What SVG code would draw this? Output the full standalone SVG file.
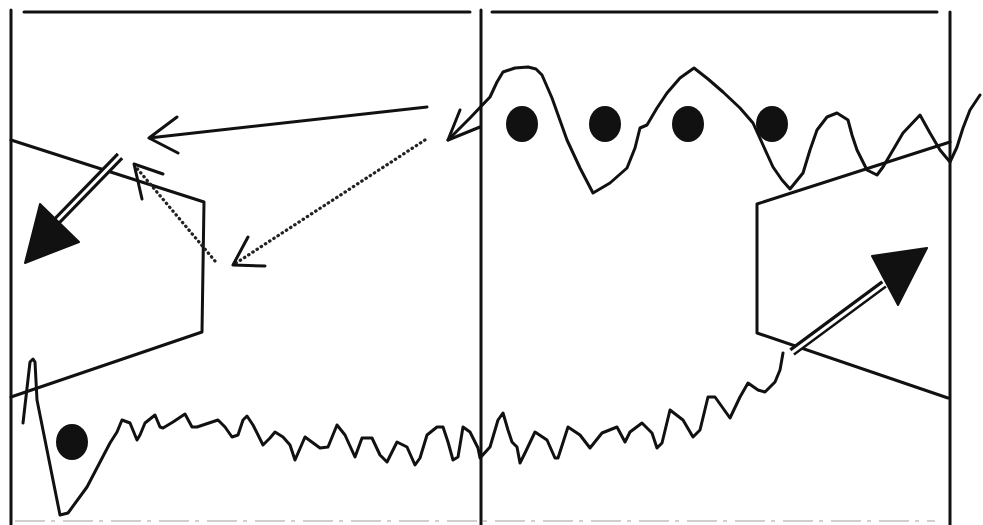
<svg xmlns="http://www.w3.org/2000/svg" width="983" height="525" viewBox="0 0 983 525">
<style>
.ln{fill:none;stroke:#111;stroke-width:3;stroke-linejoin:round;stroke-linecap:round}
.dot{fill:#111}
.dt{fill:none;stroke:#222;stroke-width:3.2;stroke-dasharray:0.5 4.5;stroke-linecap:round}
.hd{fill:#111;stroke:#111;stroke-width:2;stroke-linejoin:round}
</style>
<rect width="983" height="525" fill="#fff"/>
<g id="frame">
<path class="ln" d="M11,10 V525 M24,12 H470 M481,10 V525 M492,12 H937 M950,12 V525"/>
<path d="M15,521 H935" stroke="#cfcfcf" stroke-width="2" stroke-dasharray="30 6 4 8"/>
</g>
<g id="left-shape"><path class="ln" d="M11,140 L204,202 L202,332 L11,397"/></g>
<g id="right-shape"><path class="ln" d="M950,142 L757,204 L757,333 L948,398"/></g>
<g id="dots">
<ellipse class="dot" cx="522" cy="124" rx="16" ry="18"/>
<ellipse class="dot" cx="605" cy="124" rx="16" ry="18"/>
<ellipse class="dot" cx="688" cy="124" rx="16" ry="18"/>
<ellipse class="dot" cx="772" cy="124" rx="16" ry="18"/>
<ellipse class="dot" cx="72" cy="442" rx="16" ry="18"/>
</g>
<g id="waves">
<path class="ln" d="M448,140 L470,118 L490,97 L497,82 L503,72 L515,68 L528,67 L536,69 L542,75 L552,98 L567,140 L580,168 L593,193 L610,183 L627,168 L635,148 L640,128 L647,125 L657,108 L667,93 L680,78 L694,68 L708,79 L723,92 L740,108 L753,123 L763,145 L773,167 L782,180 L790,189 L803,173 L810,150 L817,130 L827,117 L837,113 L848,120 L852,135 L857,150 L867,170 L877,175 L883,167 L893,150 L903,133 L920,115 L930,133 L940,150 L950,162 L957,147 L963,128 L970,110 L980,95"/>
<path class="ln" d="M460,110 L448,140 L480,127"/>
<path class="ln" d="M23,423 L30,362 L33,359 L35,362 L37,400 L60,515 L68,513 L87,487 L110,443 L117,432 L122,420 L130,423 L137,440 L140,435 L145,423 L155,415 L160,427 L163,428 L173,422 L185,414 L192,427 L197,427 L218,420 L225,427 L232,437 L238,435 L243,420 L247,416 L253,425 L263,445 L270,438 L275,432 L283,437 L290,445 L295,460 L305,437 L320,448 L328,447 L337,425 L345,435 L355,457 L362,438 L372,438 L380,455 L387,462 L397,442 L407,447 L415,465 L420,458 L427,435 L437,427 L443,427 L448,442 L453,460 L458,457 L463,427 L470,432 L478,448 L480,458 L490,447 L498,420 L503,413 L508,430 L512,442 L517,447 L520,463 L525,453 L535,432 L547,440 L555,458 L558,458 L568,427 L580,435 L590,448 L602,433 L617,427 L625,442 L630,432 L642,423 L652,433 L657,448 L662,443 L670,410 L683,420 L693,437 L700,430 L708,397 L715,397 L730,418 L740,397 L748,383 L758,390 L765,392 L775,382 L780,370 L783,353"/>
</g>
<g id="connectors">
<path class="ln" d="M427,107 L149,138 M177,117 L149,138 L178,153"/>
<path class="dt" d="M425,140 L233,265"/>
<path class="ln" d="M248,237 L233,265 L265,266"/>
<path class="dt" d="M215,261 L135,166"/>
<path class="ln" d="M163,174 L134,164 L142,199"/>
<path d="M120,156 L52,226" stroke="#111" stroke-width="9" fill="none"/>
<path d="M123,153 L50,228" stroke="#fff" stroke-width="3" fill="none"/>
<path class="hd" d="M25,263 L40,204 L79,242 Z"/>
<path d="M792,352 L884,284" stroke="#111" stroke-width="9" fill="none"/>
<path d="M790,354 L886,283" stroke="#fff" stroke-width="3" fill="none"/>
<path class="hd" d="M927,248 L872,256 L898,305 Z"/>
</g>
</svg>
